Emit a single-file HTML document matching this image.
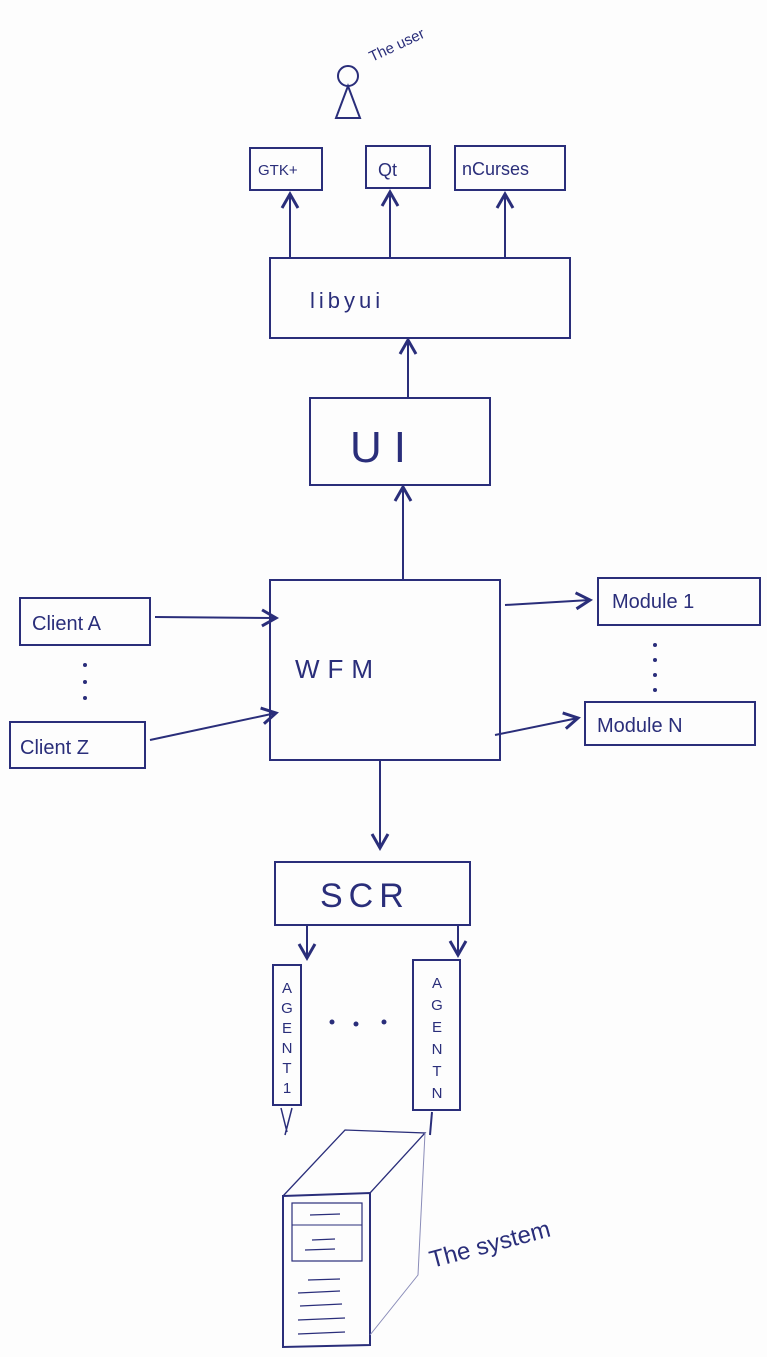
<!DOCTYPE html>
<html><head><meta charset="utf-8"><style>
html,body{margin:0;padding:0;background:#fdfdfd;}
svg{display:block}
text{font-family:"Liberation Sans",sans-serif;fill:#2a2e7a}
</style></head><body>
<svg width="767" height="1357" viewBox="0 0 767 1357" xmlns="http://www.w3.org/2000/svg">
<defs><marker id="a" markerWidth="10" markerHeight="10" refX="8" refY="5" orient="auto"><path d="M1,1 L8,5 L1,9" fill="none" stroke="#2a2e7a" stroke-width="1.5"/></marker></defs>
<g stroke="#2a2e7a" stroke-width="2" fill="none">
<!-- user -->
<circle cx="348" cy="76" r="10"/>
<path d="M348,86 L336,118 L360,118 Z"/>
<!-- top boxes -->
<rect x="250" y="148" width="72" height="42"/>
<rect x="366" y="146" width="64" height="42"/>
<rect x="455" y="146" width="110" height="44"/>
<line x1="290" y1="258" x2="290" y2="194" marker-end="url(#a)"/>
<line x1="390" y1="258" x2="390" y2="192" marker-end="url(#a)"/>
<line x1="505" y1="258" x2="505" y2="194" marker-end="url(#a)"/>
<rect x="270" y="258" width="300" height="80"/>
<line x1="408" y1="398" x2="408" y2="340" marker-end="url(#a)"/>
<rect x="310" y="398" width="180" height="87"/>
<line x1="403" y1="580" x2="403" y2="487" marker-end="url(#a)"/>
<rect x="270" y="580" width="230" height="180"/>
<!-- clients -->
<rect x="20" y="598" width="130" height="47"/>
<rect x="10" y="722" width="135" height="46"/>
<line x1="155" y1="617" x2="276" y2="618" marker-end="url(#a)"/>
<line x1="150" y1="740" x2="276" y2="713" marker-end="url(#a)"/>
<!-- modules -->
<rect x="598" y="578" width="162" height="47"/>
<rect x="585" y="702" width="170" height="43"/>
<line x1="505" y1="605" x2="590" y2="600" marker-end="url(#a)"/>
<line x1="495" y1="735" x2="578" y2="718" marker-end="url(#a)"/>
<!-- SCR -->
<line x1="380" y1="760" x2="380" y2="848" marker-end="url(#a)"/>
<rect x="275" y="862" width="195" height="63"/>
<line x1="307" y1="925" x2="307" y2="958" marker-end="url(#a)"/>
<line x1="458" y1="925" x2="458" y2="955" marker-end="url(#a)"/>
<rect x="273" y="965" width="28" height="140"/>
<rect x="413" y="960" width="47" height="150"/>
<!-- computer -->
<path d="M283,1196 L370,1193 L370,1345 L283,1347 Z"/>
<path d="M283,1196 L345,1130 L425,1133 L370,1193" stroke-width="1.3"/>
<path d="M425,1133 L418,1275 L370,1335" stroke-width="1" stroke="#8a8cb8"/>
<rect x="292" y="1203" width="70" height="58" stroke-width="1.2"/>
<line x1="292" y1="1225" x2="362" y2="1225" stroke-width="1"/>
<g stroke-width="1.2"><line x1="310" y1="1215" x2="340" y2="1214"/><line x1="312" y1="1240" x2="335" y2="1239"/><line x1="305" y1="1250" x2="335" y2="1249"/>
<line x1="308" y1="1280" x2="340" y2="1279"/><line x1="298" y1="1293" x2="340" y2="1291"/><line x1="300" y1="1306" x2="342" y2="1304"/><line x1="298" y1="1320" x2="345" y2="1318"/><line x1="298" y1="1334" x2="345" y2="1332"/></g>
<path d="M281,1108 L287,1132 M292,1108 L285,1135" stroke-width="1.5"/>
<path d="M432,1112 L430,1135" stroke-width="2"/>
</g>
<g fill="#2a2e7a">
<circle cx="85" cy="665" r="2"/><circle cx="85" cy="682" r="2"/><circle cx="85" cy="698" r="2"/>
<circle cx="655" cy="645" r="2"/><circle cx="655" cy="660" r="2"/><circle cx="655" cy="675" r="2"/><circle cx="655" cy="690" r="2"/>
<circle cx="332" cy="1022" r="2.5"/><circle cx="356" cy="1024" r="2.5"/><circle cx="384" cy="1022" r="2.5"/>
</g>
<text x="372" y="62" font-size="15" transform="rotate(-25 372 62)">The user</text>
<text x="258" y="175" font-size="15">GTK+</text>
<text x="378" y="176" font-size="18">Qt</text>
<text x="462" y="175" font-size="18">nCurses</text>
<text x="310" y="308" font-size="22" letter-spacing="4">libyui</text>
<text x="350" y="462" font-size="44" letter-spacing="12">UI</text>
<text x="295" y="678" font-size="26" letter-spacing="8">WFM</text>
<text x="32" y="630" font-size="20">Client A</text>
<text x="20" y="754" font-size="20">Client Z</text>
<text x="612" y="608" font-size="20">Module 1</text>
<text x="597" y="732" font-size="20">Module N</text>
<text x="320" y="907" font-size="34" letter-spacing="6">SCR</text>
<g font-size="15" text-anchor="middle">
<text x="287" y="993">A</text><text x="287" y="1013">G</text><text x="287" y="1033">E</text><text x="287" y="1053">N</text><text x="287" y="1073">T</text><text x="287" y="1093">1</text>
<text x="437" y="988">A</text><text x="437" y="1010">G</text><text x="437" y="1032">E</text><text x="437" y="1054">N</text><text x="437" y="1076">T</text><text x="437" y="1098">N</text>
</g>
<text x="432" y="1268" font-size="24" transform="rotate(-15 432 1268)">The system</text>
</svg>
</body></html>
